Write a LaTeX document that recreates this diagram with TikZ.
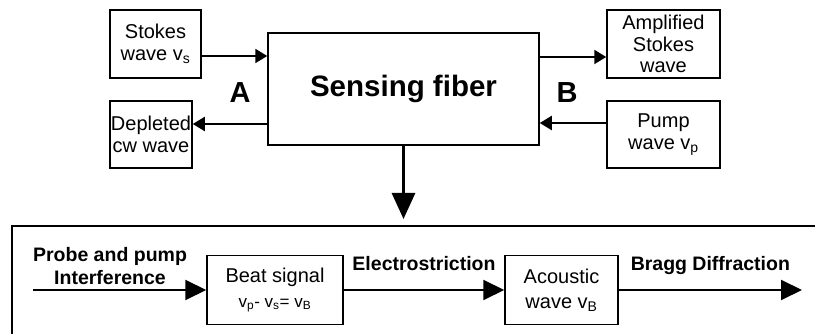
\documentclass[tikz,border=0pt]{standalone}
\usepackage{fontspec}
\setmainfont{Liberation Sans}
\usepackage{tikz}
\usetikzlibrary{arrows.meta,positioning,calc}

\begin{document}
\begin{tikzpicture}[x=1pt, y=-1pt,
    box/.style={draw, line width=1.5pt, inner sep=0pt, align=center,
        font=\fontsize{20}{22}\selectfont},
    lbl/.style={font=\bfseries\fontsize{19.5}{23}\selectfont, align=center, inner sep=0pt},
    arr/.style={line width=2pt, -{Triangle[length=12pt, width=14pt]}},
    barr/.style={line width=2pt, -{Triangle[length=21pt, width=20pt]}},
    darr/.style={line width=3pt, -{Triangle[length=26pt, width=23pt]}}]
    \useasboundingbox (0,0) rectangle (815,334);

    % 上部
    \node[box, minimum width=91pt, minimum height=68pt] (stokes) at (155.5,44) {Stokes\\wave v\textsubscript{s}};
    \node[box, minimum width=82pt, minimum height=67pt] (depl) at (151,134.5) {Depleted\\cw wave};
    \node[box, minimum width=271pt, minimum height=112pt, font=\bfseries\fontsize{29.5}{32}\selectfont] (fiber) at (403.5,89) {Sensing fiber};
    \node[box, minimum width=113pt, minimum height=68pt, font=\fontsize{20}{21.5}\selectfont] (ampl) at (663.5,44) {Amplified\\Stokes\\wave};
    \node[box, minimum width=113pt, minimum height=67pt] (pump) at (663.5,134.5) {Pump\\wave v\textsubscript{p}};

    \node[font=\bfseries\fontsize{29}{30}\selectfont] (a) at (240,93) {A};
    \node[font=\bfseries\fontsize{29}{30}\selectfont] (b) at (567,93) {B};

    % 连线
    \coordinate (s1) at ([yshift=-12pt]stokes.east);
    \coordinate (d1) at ([yshift=10.5pt]depl.east);
    \coordinate (a1) at ([yshift=-13pt]ampl.west);
    \coordinate (p1) at ([yshift=11.5pt]pump.west);
    \draw[arr] (s1) -- (s1 -| fiber.west);
    \draw[arr] (d1 -| fiber.west) -- (d1);
    \draw[arr] (a1 -| fiber.east) -- (a1);
    \draw[arr] (p1) -- (p1 -| fiber.east);

    % 下部
    \coordinate (frametl) at (12,226);
    \draw[line width=1.5pt] (12,340) -- (frametl) -- (820,226);
    \draw[darr, shorten >=7pt] (fiber.south) -- (fiber.south |- frametl);

    \node[box, minimum width=136pt, minimum height=69pt] (beat) at (275,290)
        {Beat signal\\[3pt]{\fontsize{17}{19}\selectfont v\textsubscript{p}- v\textsubscript{s}= v\textsubscript{B}}};
    \node[box, minimum width=113pt, minimum height=69pt, font=\fontsize{20}{25}\selectfont] (acou) at (561.5,290) {Acoustic\\wave v\textsubscript{B}};

    \coordinate (in) at (33,290);
    \coordinate (out) at (802,290);
    \draw[barr] (in) -- (beat.west);
    \node[lbl] (probe) at (110,266) {Probe and pump\\Interference};
    \draw[barr] (beat.east) -- (acou.west)
        node[lbl, midway, anchor=base, yshift=20pt] (electro) {Electrostriction};
    \draw[barr] (acou.east) -- (out)
        node[lbl, midway, anchor=base, yshift=20pt] (bragg) {Bragg Diffraction};
\end{tikzpicture}
\end{document}
